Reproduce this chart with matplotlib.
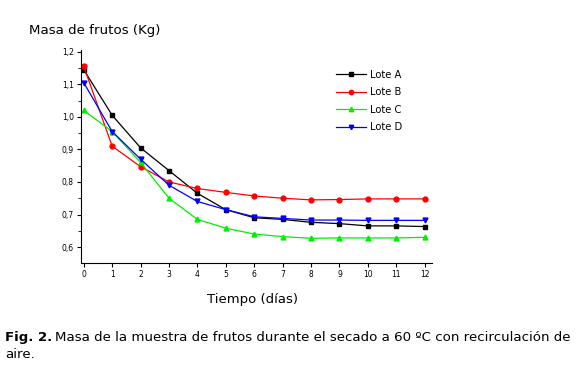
import matplotlib.pyplot as plt
from matplotlib.ticker import FuncFormatter, MultipleLocator

dias = list(range(13))
lote_a = [1.145, 1.005, 0.905, 0.835, 0.765, 0.715, 0.690, 0.685, 0.676, 0.672, 0.665, 0.665, 0.663]
lote_b = [1.155, 0.910, 0.847, 0.800, 0.780, 0.768, 0.757, 0.750, 0.745, 0.746, 0.748, 0.748, 0.748]
lote_c = [1.020, 0.955, 0.860, 0.750, 0.685, 0.658, 0.640, 0.632, 0.627, 0.628, 0.628, 0.628, 0.630]
lote_d = [1.105, 0.955, 0.870, 0.790, 0.740, 0.715, 0.693, 0.688, 0.683, 0.683, 0.682, 0.682, 0.682]

series = [
    ('Lote A', lote_a, 'black', 's'),
    ('Lote B', lote_b, 'red', 'o'),
    ('Lote C', lote_c, '#00ee00', '^'),
    ('Lote D', lote_d, 'blue', 'v'),
]

fig = plt.figure(figsize=(5.82, 3.72), dpi=100)
ax = fig.add_axes([0.139, 0.293, 0.603, 0.573])

for name, vals, col, mk in series:
    ax.plot(dias, vals, color=col, marker=mk, markersize=3.5, linewidth=0.9, label=name)

ax.set_xlim(-0.1, 12.25)
ax.set_ylim(0.551, 1.206)
ax.set_xticks(dias)
ax.yaxis.set_major_locator(MultipleLocator(0.1))
ax.yaxis.set_minor_locator(MultipleLocator(0.05))
ax.yaxis.set_major_formatter(FuncFormatter(lambda v, p: f'{v:.1f}'.replace('.', ',')))
ax.tick_params(labelsize=5.5, direction='out', length=3, width=0.8, pad=2)
ax.tick_params(which='minor', direction='out', length=2, width=0.6)
for s in ['top', 'right']:
    ax.spines[s].set_visible(False)

ax.legend(loc='upper left', bbox_to_anchor=(0.7, 0.95), frameon=False, fontsize=7.2,
          handlelength=3.0, labelspacing=0.75, handletextpad=0.4, markerscale=0.9)

fig.text(0.05, 0.917, 'Masa de frutos (Kg)', fontsize=9.6, ha='left', va='center')
fig.text(0.433, 0.195, 'Tiempo (días)', fontsize=9.5, ha='center', va='center')

fig.text(0.009, 0.094, 'Fig. 2.', fontsize=9.5, fontweight='bold', ha='left', va='center')
fig.text(0.094, 0.094, 'Masa de la muestra de frutos durante el secado a 60 ºC con recirculación de',
         fontsize=9.6, ha='left', va='center')
fig.text(0.009, 0.047, 'aire.', fontsize=9.6, ha='left', va='center')

fig.savefig('out.png', dpi=100)
